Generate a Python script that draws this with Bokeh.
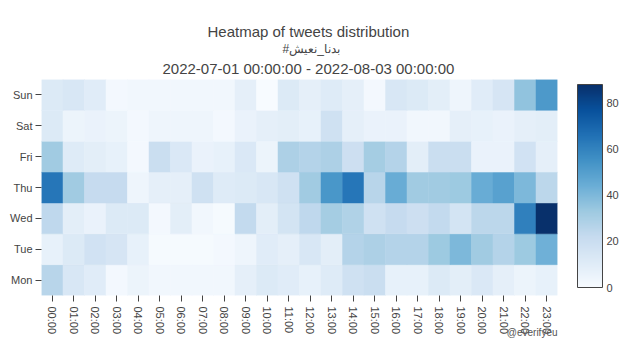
from bokeh.plotting import figure
from bokeh.models import (LinearColorMapper, ColorBar, FixedTicker, Title, ColumnDataSource)
from bokeh.transform import transform
from bokeh.palettes import Blues256
from bokeh.embed import file_html
from bokeh.resources import INLINE

hours = ["00:00", "01:00", "02:00", "03:00", "04:00", "05:00", "06:00", "07:00",
         "08:00", "09:00", "10:00", "11:00", "12:00", "13:00", "14:00", "15:00",
         "16:00", "17:00", "18:00", "19:00", "20:00", "21:00", "22:00", "23:00"]
days = ["Mon", "Tue", "Wed", "Thu", "Fri", "Sat", "Sun"]

sun = [12, 14, 10, 2, 3, 3, 3, 3, 3, 8, 0, 12, 8, 11, 8, 2, 14, 12, 9, 4, 10, 15, 36, 52]
sat = [12, 5, 6, 5, 2, 4, 4, 4, 2, 6, 8, 9, 7, 18, 8, 6, 6, 3, 3, 8, 7, 6, 8, 9]
fri = [32, 11, 9, 7, 2, 20, 13, 6, 7, 13, 5, 29, 27, 29, 19, 31, 27, 9, 20, 20, 6, 6, 17, 8]
thu = [64, 32, 22, 22, 4, 8, 8, 18, 11, 12, 14, 18, 32, 53, 64, 26, 45, 32, 32, 33, 45, 49, 40, 25]
wed = [24, 9, 6, 12, 12, 2, 9, 3, 1, 23, 9, 16, 24, 31, 28, 18, 22, 19, 23, 16, 25, 25, 61, 88]
tue = [7, 12, 17, 15, 7, 1, 1, 1, 2, 4, 10, 8, 14, 9, 27, 29, 27, 27, 33, 40, 32, 27, 33, 43]
mon = [26, 14, 10, 2, 5, 3, 3, 3, 3, 8, 12, 10, 7, 11, 18, 20, 7, 7, 12, 9, 13, 8, 5, 7]

title_lines = ["Heatmap of tweets distribution", "#بدنا_نعيش",
               "2022-07-01 00:00:00 - 2022-08-03 00:00:00"]
watermark = "@everifyeu"
cbar_ticks = [0, 20, 40, 60, 80]

rows = {"Mon": mon, "Tue": tue, "Wed": wed, "Thu": thu, "Fri": fri, "Sat": sat, "Sun": sun}
xs, ys, vs = [], [], []
for d in days:
    for h, v in zip(hours, rows[d]):
        xs.append(h); ys.append(d); vs.append(v)
src = ColumnDataSource(dict(x=xs, y=ys, v=vs))

vmax = max(max(r) for r in rows.values())
mapper = LinearColorMapper(palette=list(reversed(Blues256)), low=0, high=vmax)

p = figure(x_range=hours, y_range=days, width=631, height=364,
           output_backend="svg", toolbar_location=None, title=None,
           min_border_left=41, min_border_right=74, min_border_top=79, min_border_bottom=69)
p.rect(x="x", y="y", width=1, height=1, source=src,
       fill_color=transform("v", mapper), line_color=transform("v", mapper), line_width=0.5)

p.outline_line_color = None
p.grid.grid_line_color = None
FONT = "Liberation Sans"
GREY = "#444444"
for ax in (p.xaxis[0], p.yaxis[0]):
    ax.axis_line_color = None
    ax.major_tick_line_color = GREY
    ax.major_tick_out = 6
    ax.major_tick_in = 0
    ax.minor_tick_line_color = None
    ax.major_label_text_font = FONT
    ax.major_label_text_font_size = "11px"
    ax.major_label_text_color = GREY
p.xaxis.major_label_orientation = -1.5707963
p.xaxis.major_label_standoff = 5
p.yaxis.major_label_standoff = 3
p.x_range.range_padding = 0
p.y_range.range_padding = 0

cb = ColorBar(color_mapper=mapper, ticker=FixedTicker(ticks=cbar_ticks),
              width=25, height=203, padding=0, margin=0, location=(20, 8),
              major_tick_line_color=None, minor_tick_line_color=None,
              bar_line_color=GREY, bar_line_width=1,
              major_label_text_font=FONT, major_label_text_font_size="11px",
              major_label_text_color=GREY, label_standoff=4,
              background_fill_alpha=0, border_line_color=None)
p.add_layout(cb, "right")

# titles stacked outward from the frame: date, hashtag, heading
specs = [(title_lines[2], "15px", 121, 6),
         (title_lines[1], "12px", 241, -2),
         (title_lines[0], "15px", 166, 1)]
for txt, fs, off, so in specs:
    p.add_layout(Title(text=txt, align="left", offset=off, standoff=so,
                       text_font=FONT, text_font_size=fs, text_color=GREY,
                       text_font_style="normal"), "above")

p.add_layout(Title(text=watermark, align="right", offset=0, standoff=-22,
                   vertical_align="top",
                   text_font=FONT, text_font_size="10px", text_color="#555555",
                   text_font_style="normal"), "below")

open("out.html", "w").write(file_html(p, INLINE))
